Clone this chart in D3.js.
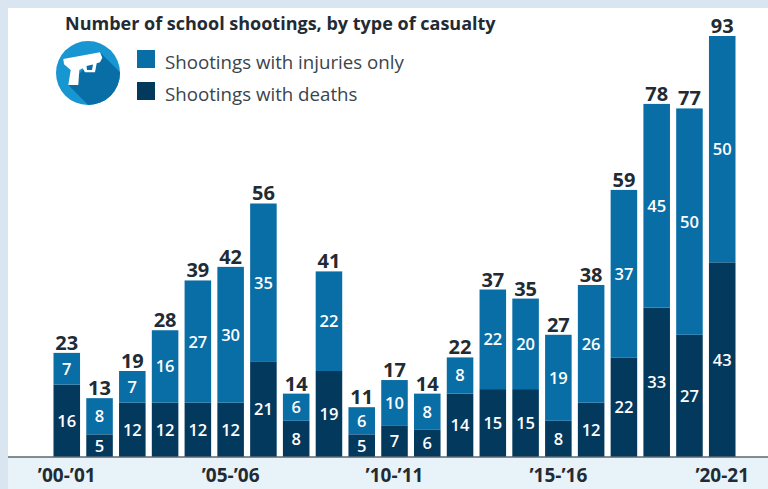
<!DOCTYPE html>
<html>
<head>
<meta charset="utf-8">
<script src="https://cdn.jsdelivr.net/npm/d3@7"></script>
<style>
html, body { margin: 0; padding: 0; background: #dbe7f1; overflow: hidden; }
text { font-family: "Open Sans", sans-serif; }
</style>
</head>
<body>
<div id="chart"></div>
<script>
var svgWidth = 768;
var svgHeight = 489;

var margin = { top: 36, right: 32.5, bottom: 32, left: 53.5 };

var width = svgWidth - margin.left - margin.right;
var height = svgHeight - margin.top - margin.bottom;

// school years, one per bar
var years = ["'00-'01", "'01-'02", "'02-'03", "'03-'04", "'04-'05", "'05-'06", "'06-'07",
    "'07-'08", "'08-'09", "'09-'10", "'10-'11", "'11-'12", "'12-'13", "'13-'14", "'14-'15",
    "'15-'16", "'16-'17", "'17-'18", "'18-'19", "'19-'20", "'20-21"];
var deaths = [16, 5, 12, 12, 12, 12, 21, 8, 19, 5, 7, 6, 14, 15, 15, 8, 12, 22, 33, 27, 43];
var injuries = [7, 8, 7, 16, 27, 30, 35, 6, 22, 6, 10, 8, 8, 22, 20, 19, 26, 37, 45, 50, 50];
var yearTicks = ["'00-'01", "'05-'06", "'10-'11", "'15-'16", "'20-21"];

var seriesNames = ["Shootings with injuries only", "Shootings with deaths"];
var titleText = "Number of school shootings, by type of casualty";

var injuryColor = "#0a6ea6";
var deathColor = "#04395e";

var svg = d3.select("#chart")
    .append("svg")
    .attr("width", svgWidth)
    .attr("height", svgHeight)
    .style("display", "block");

// frosty backdrop, white panel and pale strip under the axis
svg.append("rect").attr("width", svgWidth).attr("height", svgHeight).attr("fill", "#d9e6f1");
svg.append("rect").attr("x", 8).attr("y", 8).attr("width", svgWidth - 8).attr("height", 449).attr("fill", "#ffffff");
svg.append("rect").attr("x", 8).attr("y", 457).attr("width", svgWidth - 8).attr("height", 32).attr("fill", "#e8f3f9");

var chartGroup = svg.append("g")
    .attr("transform", `translate(${margin.left}, ${margin.top})`);

var xScale = d3.scaleBand()
    .domain(years)
    .range([0, width])
    .paddingInner(0.19)
    .paddingOuter(0);

var yScale = d3.scaleLinear()
    .domain([0, d3.max(years, (d, i) => deaths[i] + injuries[i])])
    .range([height, 0]);

var rows = years.map((year, i) => ({ year: year, deaths: deaths[i], injuries: injuries[i] }));

// deaths at the bottom, injuries stacked on top
var stacked = d3.stack().keys(["deaths", "injuries"])(rows);
var colors = { deaths: deathColor, injuries: injuryColor };

var layers = chartGroup.selectAll("g.layer")
    .data(stacked)
    .enter()
    .append("g")
    .attr("class", "layer")
    .attr("fill", d => colors[d.key]);

layers.selectAll("rect")
    .data(d => d)
    .enter()
    .append("rect")
    .attr("x", d => xScale(d.data.year))
    .attr("y", d => yScale(d[1]))
    .attr("width", xScale.bandwidth())
    .attr("height", d => yScale(d[0]) - yScale(d[1]));

// white numbers in the middle of each segment
layers.selectAll("text")
    .data(d => d)
    .enter()
    .append("text")
    .text(d => d[1] - d[0])
    .attr("x", d => xScale(d.data.year) + xScale.bandwidth() / 2)
    .attr("y", d => yScale((d[0] + d[1]) / 2))
    .attr("dy", "0.36em")
    .attr("text-anchor", "middle")
    .attr("font-size", "16.5px")
    .attr("font-weight", 600)
    .attr("fill", "#ffffff");

// totals above the bars
chartGroup.append("g")
    .selectAll("text")
    .data(rows)
    .enter()
    .append("text")
    .text(d => d.deaths + d.injuries)
    .attr("x", d => xScale(d.year) + xScale.bandwidth() / 2)
    .attr("y", d => yScale(d.deaths + d.injuries) - 3)
    .attr("text-anchor", "middle")
    .attr("font-size", "20px")
    .attr("font-weight", 700)
    .attr("fill", "#222b33");

var xAxis = chartGroup.append("g")
    .attr("transform", `translate(0, ${height})`)
    .call(d3.axisBottom(xScale).tickValues(yearTicks).tickSize(0).tickPadding(12));

xAxis.select(".domain").remove();
xAxis.selectAll("text")
    .attr("font-size", "19px")
    .attr("font-weight", 700)
    .attr("fill", "#222b33")
    .style("font-family", "'Open Sans', sans-serif")
    .text(d => d.replace(/'/g, "\u2019"));

// baseline runs across the whole panel
svg.append("line")
    .attr("x1", 8).attr("x2", svgWidth)
    .attr("y1", 457).attr("y2", 457)
    .attr("stroke", "#5b6670")
    .attr("stroke-width", 1.5);

// title and legend
svg.append("text")
    .text(titleText)
    .attr("x", 65).attr("y", 30)
    .attr("font-size", "18px")
    .attr("font-weight", 700)
    .attr("fill", "#222b33");

var legend = svg.append("g")
    .selectAll("g")
    .data(seriesNames)
    .enter()
    .append("g")
    .attr("transform", (d, i) => `translate(137, ${50 + i * 32})`);

legend.append("rect")
    .attr("width", 18).attr("height", 18)
    .attr("fill", (d, i) => i === 0 ? injuryColor : deathColor);

legend.append("text")
    .text(d => d)
    .attr("x", 28).attr("y", 19)
    .attr("font-size", "18.7px")
    .attr("fill", "#3a444c");

// pistol badge
var badge = svg.append("g").attr("transform", "translate(88, 73)");
badge.append("clipPath").attr("id", "badgeClip").append("circle").attr("r", 32);
badge.append("circle").attr("r", 32).attr("fill", "#1796d2");
badge.append("path")
    .attr("clip-path", "url(#badgeClip)")
    .attr("d", "M12,-20.7 L52,19.3 L20,52 L-19.7,12 Z")
    .attr("fill", "#0a6ea6");
badge.append("path")
    .attr("fill-rule", "evenodd")
    .attr("d", "M-24.7,-14 L12,-20.7 L14.3,-15.3 L12,-10.7 L8.7,-9.7 L7,-0.7 L-3,-0.7 L-5.3,-4.7 L-8.7,-3 L-9.7,12 L-19.7,12 L-17.3,-3 L-24,-8.7 Z " +
        "M-1.5,-7 L5,-8.5 L4,-3 L-1,-3 Z")
    .attr("fill", "#ffffff");
</script>
</body>
</html>
